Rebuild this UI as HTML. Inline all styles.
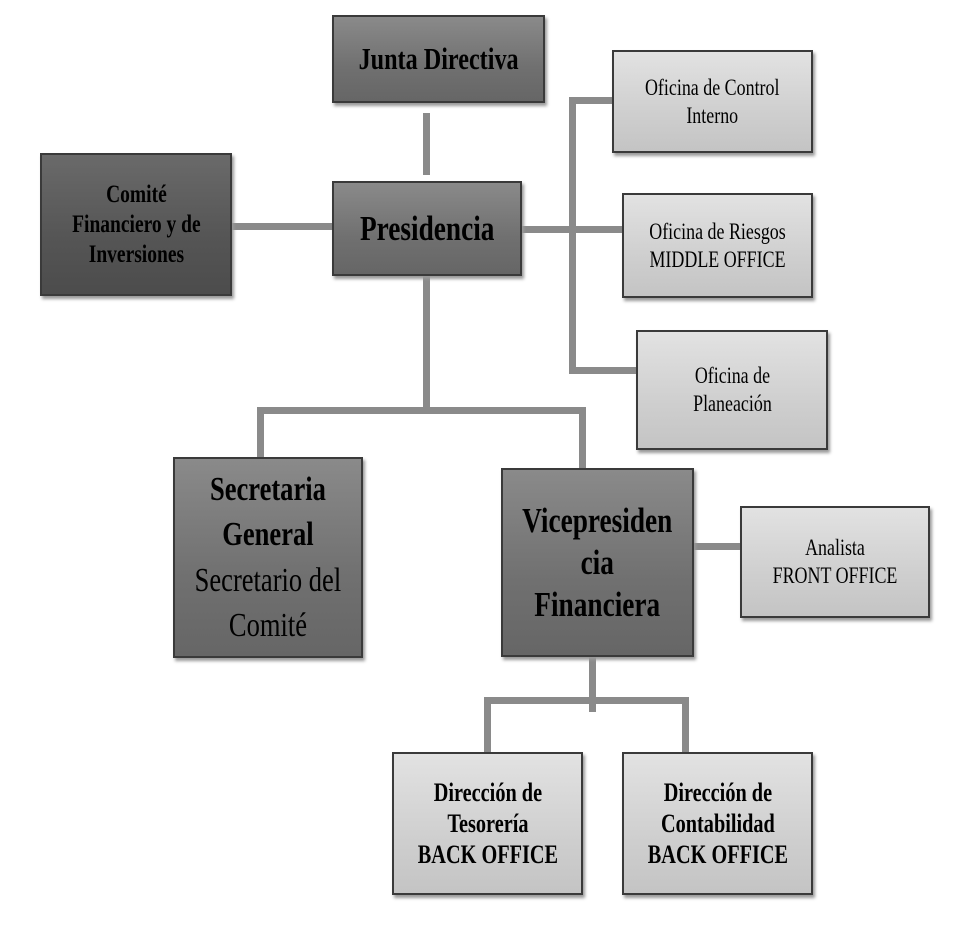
<!DOCTYPE html>
<html><head><meta charset="utf-8"><style>
body{margin:0;width:963px;height:944px;background:#fff;position:relative;overflow:hidden;font-family:"Liberation Serif",serif}
.b{position:absolute;box-sizing:border-box;border:2px solid #3a3a3a;display:flex;align-items:center;justify-content:center;text-align:center;color:#000;box-shadow:2px 3px 3px #999}
.b span{display:inline-block;transform:scaleX(0.78);white-space:nowrap;line-height:1.2}
.d{background:linear-gradient(#8a8a8a,#707070 60%,#666)}
.k{background:linear-gradient(#6a6a6a,#555 60%,#4c4c4c)}
.l{background:linear-gradient(#e2e2e2,#cfcfcf 60%,#c4c4c4)}
.c{position:absolute;background:#8a8a8a}
</style></head><body>
<div class="c" style="left:423px;top:113px;width:7px;height:62px"></div>
<div class="c" style="left:232px;top:223px;width:100px;height:7px"></div>
<div class="c" style="left:522px;top:226px;width:100px;height:7px"></div>
<div class="c" style="left:569px;top:97px;width:7px;height:277px"></div>
<div class="c" style="left:569px;top:97px;width:43px;height:7px"></div>
<div class="c" style="left:569px;top:367px;width:67px;height:7px"></div>
<div class="c" style="left:423px;top:276px;width:7px;height:137px"></div>
<div class="c" style="left:257px;top:407px;width:329px;height:7px"></div>
<div class="c" style="left:257px;top:407px;width:7px;height:50px"></div>
<div class="c" style="left:579px;top:407px;width:7px;height:62px"></div>
<div class="c" style="left:694px;top:543px;width:46px;height:7px"></div>
<div class="c" style="left:589px;top:657px;width:7px;height:55px"></div>
<div class="c" style="left:484px;top:697px;width:205px;height:7px"></div>
<div class="c" style="left:484px;top:697px;width:7px;height:56px"></div>
<div class="c" style="left:682px;top:697px;width:7px;height:56px"></div>

<div class="b d" style="left:332px;top:15px;width:213px;height:88px;font-size:31px;font-weight:bold"><span>Junta Directiva</span></div>
<div class="b d" style="left:332px;top:181px;width:190px;height:95px;font-size:35px;font-weight:bold"><span>Presidencia</span></div>
<div class="b k" style="left:40px;top:153px;width:192px;height:143px;font-size:25px;font-weight:bold"><span>Comité<br>Financiero y de<br>Inversiones</span></div>
<div class="b l" style="left:612px;top:50px;width:201px;height:103px;font-size:23px"><span>Oficina de Control<br>Interno</span></div>
<div class="b l" style="left:622px;top:193px;width:191px;height:105px;font-size:23px"><span>Oficina de Riesgos<br>MIDDLE OFFICE</span></div>
<div class="b l" style="left:636px;top:330px;width:192px;height:120px;font-size:23px"><span>Oficina de<br>Planeación</span></div>
<div class="b d" style="left:173px;top:457px;width:190px;height:201px;font-size:34px"><span style="line-height:1.33"><b>Secretaria<br>General</b><br>Secretario del<br>Comité</span></div>
<div class="b d" style="left:501px;top:468px;width:193px;height:189px;font-size:35px;font-weight:bold"><span>Vicepresiden<br>cia<br>Financiera</span></div>
<div class="b l" style="left:740px;top:506px;width:190px;height:112px;font-size:23px"><span>Analista<br>FRONT OFFICE</span></div>
<div class="b l" style="left:392px;top:752px;width:191px;height:143px;font-size:26px;font-weight:bold"><span>Dirección de<br>Tesorería<br>BACK OFFICE</span></div>
<div class="b l" style="left:622px;top:752px;width:191px;height:143px;font-size:26px;font-weight:bold"><span>Dirección de<br>Contabilidad<br>BACK OFFICE</span></div>
</body></html>
